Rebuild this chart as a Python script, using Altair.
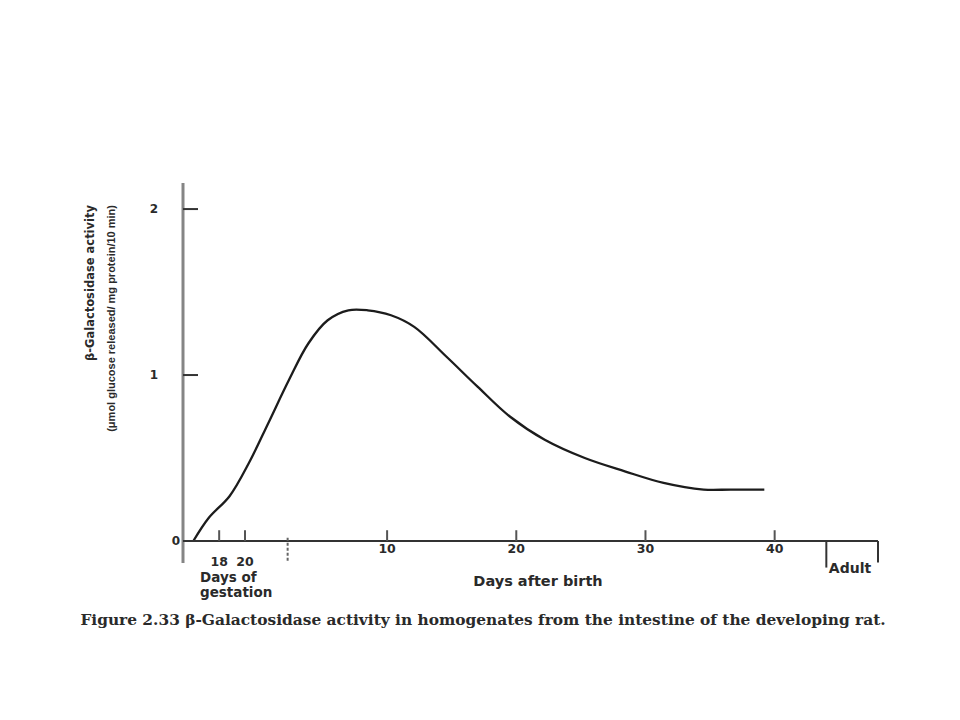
import altair as alt
import pandas as pd

# ---- data ----
days = [-5, -3.8, -2.2, -0.7, 0.8, 2.4, 3.9, 5.4, 7, 8.5, 10.3, 12.1, 14.6, 17, 19.5,
        22.2, 25.3, 28.4, 31.4, 34.5, 36.6, 39.2]
activity = [0.0, 0.14, 0.27, 0.47, 0.71, 0.97, 1.19, 1.33, 1.39, 1.39, 1.36, 1.29, 1.11,
            0.93, 0.75, 0.61, 0.50, 0.42, 0.35, 0.31, 0.31, 0.31]

gestation_length = 21
gestation_ticks = [18, 20]
postnatal_ticks = [10, 20, 30, 40]
y_ticks = [1, 2]
break_day = [2.3]
adult_span = [44, 48]

y_title_1 = "β-Galactosidase activity"
y_title_2 = "(μmol glucose released/ mg protein/10 min)"
caption = ("Figure 2.33  β-Galactosidase activity in homogenates from the intestine "
           "of the developing rat.")

# ---- tables ----
curve = pd.DataFrame({"day": days, "activity": activity})
gest = pd.DataFrame({"pos": [g - gestation_length for g in gestation_ticks],
                     "label": [str(g) for g in gestation_ticks], "ly": -0.128})
post = pd.DataFrame({"pos": postnatal_ticks, "label": [str(p) for p in postnatal_ticks],
                     "ly": -0.05})
ticks_x = pd.DataFrame({"pos": list(gest["pos"]) + postnatal_ticks, "y0": 0.0, "y1": 0.065})
yt = pd.DataFrame({"v": y_ticks, "label": [str(v) for v in y_ticks]})
zero = pd.DataFrame({"v": [0], "label": ["0"]})
brk = pd.DataFrame({"pos": break_day, "y0": 0.02, "y1": -0.13})
adult = pd.DataFrame({"pos": adult_span, "y0": 0.0, "y1": [-0.16, -0.13]})
one = pd.DataFrame({"k": [1]})

XS = alt.Scale(domain=[-5.8, 48], nice=False, zero=False)
YS = alt.Scale(domain=[-0.1325, 2.157], nice=False, zero=False)
FONT = "DejaVu Sans"
INK = "#2a2a2a"

line = alt.Chart(curve).mark_line(color="#1c1c1c", strokeWidth=2.3,
                                  interpolate="catmull-rom").encode(
    x=alt.X("day:Q", scale=XS, axis=None),
    y=alt.Y("activity:Q", scale=YS, axis=None),
)

y_axis_line = alt.Chart(one).mark_rule(color="#858585", strokeWidth=3).encode(
    x=alt.value(0), y=alt.value(0), y2=alt.value(380)
)

x_axis_line = alt.Chart(zero).mark_rule(color="#333", strokeWidth=2).encode(
    x=alt.value(0), x2=alt.value(695), y=alt.Y("v:Q", scale=YS, axis=None)
)

y_tick_marks = alt.Chart(yt).mark_rule(color="#333", strokeWidth=2).encode(
    x=alt.value(0), x2=alt.value(15), y=alt.Y("v:Q", scale=YS, axis=None)
)

y_labels = alt.Chart(yt).mark_text(font=FONT, fontSize=12, fontWeight="bold", color=INK,
                                   align="right", baseline="middle").encode(
    x=alt.value(-25), y=alt.Y("v:Q", scale=YS, axis=None), text="label:N"
)

zero_label = alt.Chart(zero).mark_text(font=FONT, fontSize=12, fontWeight="bold", color=INK,
                                       align="right", baseline="middle").encode(
    x=alt.value(-3), y=alt.Y("v:Q", scale=YS, axis=None), text="label:N"
)

x_tick_marks = alt.Chart(ticks_x).mark_rule(color="#555", strokeWidth=2).encode(
    x=alt.X("pos:Q", scale=XS, axis=None), y=alt.Y("y0:Q", scale=YS, axis=None), y2="y1:Q"
)

gest_labels = alt.Chart(gest).mark_text(font=FONT, fontSize=12.5, fontWeight="bold", color=INK,
                                        baseline="middle").encode(
    x=alt.X("pos:Q", scale=XS, axis=None), y=alt.Y("ly:Q", scale=YS, axis=None), text="label:N"
)

post_labels = alt.Chart(post).mark_text(font=FONT, fontSize=12.5, fontWeight="bold", color=INK,
                                        baseline="middle").encode(
    x=alt.X("pos:Q", scale=XS, axis=None), y=alt.Y("ly:Q", scale=YS, axis=None), text="label:N"
)

break_mark = alt.Chart(brk).mark_rule(color="#666", strokeWidth=2, strokeDash=[3, 2]).encode(
    x=alt.X("pos:Q", scale=XS, axis=None), y=alt.Y("y0:Q", scale=YS, axis=None), y2="y1:Q"
)

adult_marks = alt.Chart(adult).mark_rule(color="#333", strokeWidth=2).encode(
    x=alt.X("pos:Q", scale=XS, axis=None), y=alt.Y("y0:Q", scale=YS, axis=None), y2="y1:Q"
)


def note(text, x, y, align="center", size=12, font=FONT, weight="bold", baseline="middle",
         angle=0, line_height=15):
    return alt.Chart(one).mark_text(
        font=font, fontSize=size, fontWeight=weight, color=INK, align=align,
        baseline=baseline, angle=angle, lineHeight=line_height, text=text
    ).encode(x=alt.value(x), y=alt.value(y))


gest_title = note(["Days of", "gestation"], 17, 395, align="left", size=13.5)
post_title = note("Days after birth", 355, 399, size=14.5)
adult_title = note("Adult", 667, 386, size=14)
ytitle1 = note(y_title_1, -98, 22, align="right", size=11.5, baseline="top", angle=270)
ytitle2 = note(y_title_2, -77, 22, align="right", size=11, baseline="top", angle=270,
               font="Liberation Sans Narrow, Liberation Sans")
cap = note(caption, 300, 437, size=15.4, font="DejaVu Serif")

chart = alt.layer(
    line, y_axis_line, x_axis_line, y_tick_marks, y_labels, zero_label, x_tick_marks,
    gest_labels, post_labels, break_mark, adult_marks, gest_title, post_title,
    adult_title, ytitle1, ytitle2, cap
).properties(
    width=695, height=380,
    autosize=alt.AutoSizeParams(type="none"),
    padding={"left": 175, "top": 175, "right": 74, "bottom": 149},
    background="white",
).configure_view(stroke=None)

chart.save("out.html", embed_options={"renderer": "svg", "actions": False})
